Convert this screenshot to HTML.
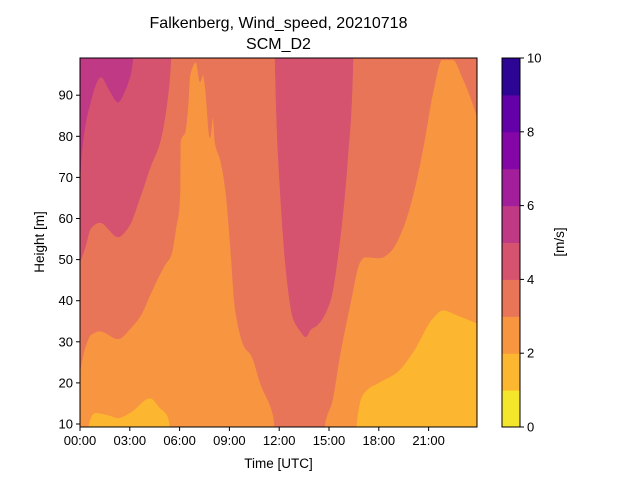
<!DOCTYPE html>
<html><head><meta charset="utf-8"><style>
html,body{margin:0;padding:0;background:#fff;}
svg{display:block;font-family:"Liberation Sans","DejaVu Sans",sans-serif;}
</style></head><body>
<svg id="chart" width="640" height="480" viewBox="0 0 640 480">
<text x="278.5" y="28" font-size="16" text-anchor="middle">Falkenberg, Wind_speed, 20210718</text>
<text x="278.5" y="49" font-size="16" text-anchor="middle">SCM_D2</text>
<defs><clipPath id="pc"><rect x="80" y="58" width="397" height="369"/></clipPath></defs>
<g id="plot" clip-path="url(#pc)"></g>
<rect x="80" y="58" width="397" height="369" fill="none" stroke="#000" stroke-width="1"/>
<g id="axes"></g>
<text x="278.5" y="468" font-size="13.5" text-anchor="middle">Time [UTC]</text>
<text transform="translate(44,242) rotate(-90)" font-size="13.5" text-anchor="middle">Height [m]</text>
<g id="cbar"></g>
<text transform="translate(564,242) rotate(-90)" font-size="13.5" text-anchor="middle">[m/s]</text>
</svg>
<script>
// ---- data ----
const levelColors = ["#f4e62a","#fdb62f","#f89540","#e97559","#d5536f","#bf3984","#a31e9a","#8506a6","#6300a7","#2c0594"];
const levelBounds = [0,1,2,3,4,5,6,7,8,9,10];
const xTickLabels = ["00:00","03:00","06:00","09:00","12:00","15:00","18:00","21:00"];
const xTickHours = [0,3,6,9,12,15,18,21];
const yTicks = [10,20,30,40,50,60,70,80,90];
const cbarTicks = [0,2,4,6,8,10];
// contour boundary k: wind speed = k m/s, height [m] vs time [h]
const b2Times = [0,0.45,0.48,0.96,1.69,2.29,3.07,4.22,4.82,5.3,5.42,5.45,16.6,16.63,17.17,18.07,19.1,20.06,21.27,21.87,22.7,24];
const b2Heights = [0,0,9,12.7,12.2,11.5,12.9,16.3,13.9,11.7,9,0,0,9,17.8,20.2,22.6,27.5,35.8,37.7,36.5,34.4];
const b3Times = [0,0.3,0.66,1.2,2.29,3.07,3.67,4.22,4.7,5.12,5.48,5.78,6.02,6.05,6.33,6.5,6.63,6.99,7.23,7.41,7.53,7.83,8.01,8.13,8.49,8.8,9.1,9.34,9.94,10.3,10.9,11.63,11.8,14.7,14.76,15.18,15.66,16.27,16.87,17.17,18.07,18.67,19.46,20.06,20.66,21.27,21.8,22.47,23.07,23.9,24];
const b3Heights = [23,28.5,31.7,32.6,30.7,33.4,36.5,41.4,45.5,48.7,51,57.7,65.7,78.6,81,86.9,94.9,98,93.2,94.9,92.5,79.6,84.7,78.6,73.7,65.7,51,38.2,28.5,26.8,19.5,12.2,8,8,10.2,15.4,26.8,39,49.4,50.6,50.4,51.8,57.7,65.7,77,90.8,98.6,98.6,94,85,83.5];
const b4Times = [0,0.3,0.66,1.2,2.29,2.89,3.67,4.22,4.82,5.3,5.48,5.6,11.7,11.75,12.05,12.53,12.83,13.2,13.61,13.9,14.28,15.06,15.66,16.14,16.45,16.5,24];
const b4Heights = [49.4,52.8,57.7,59,55.5,57.7,65.7,72.3,78.6,90,99,120,120,99,67.4,43.1,35.8,33,31.2,33,34,39.7,55,75.4,99,120,120];
const b5Times = [0,0.1,0.48,1.27,1.8,2.29,2.7,2.89,3.19,3.3,24];
const b5Heights = [70,76,86,94.4,91,88.3,91,93,99,120,120];
// ---- axes ----
const X0=80,X1=477,Y0=58,Y1=427;
const tMin=0,tMax=(477-80)/16.6;
const hMin=10-(427-424)/4.11,hMax=10+(424-58)/4.11;
const xs=t=>X0+(t-tMin)/(tMax-tMin)*(X1-X0);
const ys=h=>Y1-(h-hMin)/(hMax-hMin)*(Y1-Y0);
const NS="http://www.w3.org/2000/svg";
function mk(tag,attrs,parent){const e=document.createElementNS(NS,tag);for(const k in attrs)e.setAttribute(k,attrs[k]);parent.appendChild(e);return e;}
// monotone cubic (Fritsch-Carlson) sampling
function smooth(T,H){
  const n=T.length,d=[],m=new Array(n).fill(0);
  for(let i=0;i<n-1;i++)d.push((H[i+1]-H[i])/(T[i+1]-T[i]));
  m[0]=d[0];m[n-1]=d[n-2];
  for(let i=1;i<n-1;i++){ if(d[i-1]*d[i]<=0)m[i]=0; else {const w1=2*(T[i+1]-T[i])+(T[i]-T[i-1]),w2=(T[i+1]-T[i])+2*(T[i]-T[i-1]);m[i]=(w1+w2)/(w1/d[i-1]+w2/d[i]);} }
  const out=[];
  for(let i=0;i<n-1;i++){
    const h=T[i+1]-T[i];
    for(let s=0;s<10;s++){const u=s/10,h00=2*u*u*u-3*u*u+1,h10=u*u*u-2*u*u+u,h01=-2*u*u*u+3*u*u,h11=u*u*u-u*u;
      out.push([T[i]+u*h,h00*H[i]+h10*h*m[i]+h01*H[i+1]+h11*h*m[i+1]]);}
  }
  out.push([T[n-1],H[n-1]]);
  return out;
}
const plot=document.getElementById('plot');
const base=mk('rect',{x:X0,y:Y0,width:X1-X0,height:Y1-Y0,fill:levelColors[1]},plot);


const bounds=[[b2Times,b2Heights,2],[b3Times,b3Heights,3],[b4Times,b4Heights,4],[b5Times,b5Heights,5]];
bounds.forEach(([T,H,k])=>{
  const lo=hMin-2,hi=hMax+2;
  let pts=smooth(T,H).map(([t,h])=>xs(t).toFixed(2)+','+ys(Math.max(lo,Math.min(hi,h))).toFixed(2));
  pts.push(xs(T[T.length-1])+','+(Y0-5));pts.push(xs(T[0])+','+(Y0-5));
  const p=mk('polygon',{points:pts.join(' '),fill:levelColors[k],stroke:levelColors[k],'stroke-width':0.5},plot);
  
  
});
const axes=document.getElementById('axes');
xTickHours.forEach((t,i)=>{
  const x=xs(t);
  const l=mk('line',{x1:x,x2:x,y1:Y1,y2:Y1+4,stroke:'#000'},axes);
  
  
  const tx=mk('text',{x:x,y:Y1+18,'font-size':13,'text-anchor':'middle'},axes);
  tx.textContent=xTickLabels[i];
  
  
});
yTicks.forEach(v=>{
  const y=ys(v);
  const l=mk('line',{x1:X0-4,x2:X0,y1:y,y2:y,stroke:'#000'},axes);
  
  
  const tx=mk('text',{x:X0-7,y:y+4.5,'font-size':13,'text-anchor':'end'},axes);
  tx.textContent=v;
  
  
});
// ---- colorbar ----
const cb=document.getElementById('cbar');
const CX0=502,CX1=520;
const cy=v=>Y1-(v-levelBounds[0])/(levelBounds[levelBounds.length-1]-levelBounds[0])*(Y1-Y0);
for(let i=0;i<levelColors.length;i++){
  const r=mk('rect',{x:CX0,y:cy(levelBounds[i+1]),width:CX1-CX0,height:cy(levelBounds[i])-cy(levelBounds[i+1])+0.5,fill:levelColors[i]},cb);
  
  
}
mk('rect',{x:CX0,y:Y0,width:CX1-CX0,height:Y1-Y0,fill:'none',stroke:'#000'},cb);
cbarTicks.forEach(v=>{
  const y=cy(v);
  const l=mk('line',{x1:CX1,x2:CX1+4,y1:y,y2:y,stroke:'#000'},cb);
  
  
  const tx=mk('text',{x:CX1+7,y:y+4.5,'font-size':13},cb);
  tx.textContent=v;
  
  
});
</script>
</body></html>
